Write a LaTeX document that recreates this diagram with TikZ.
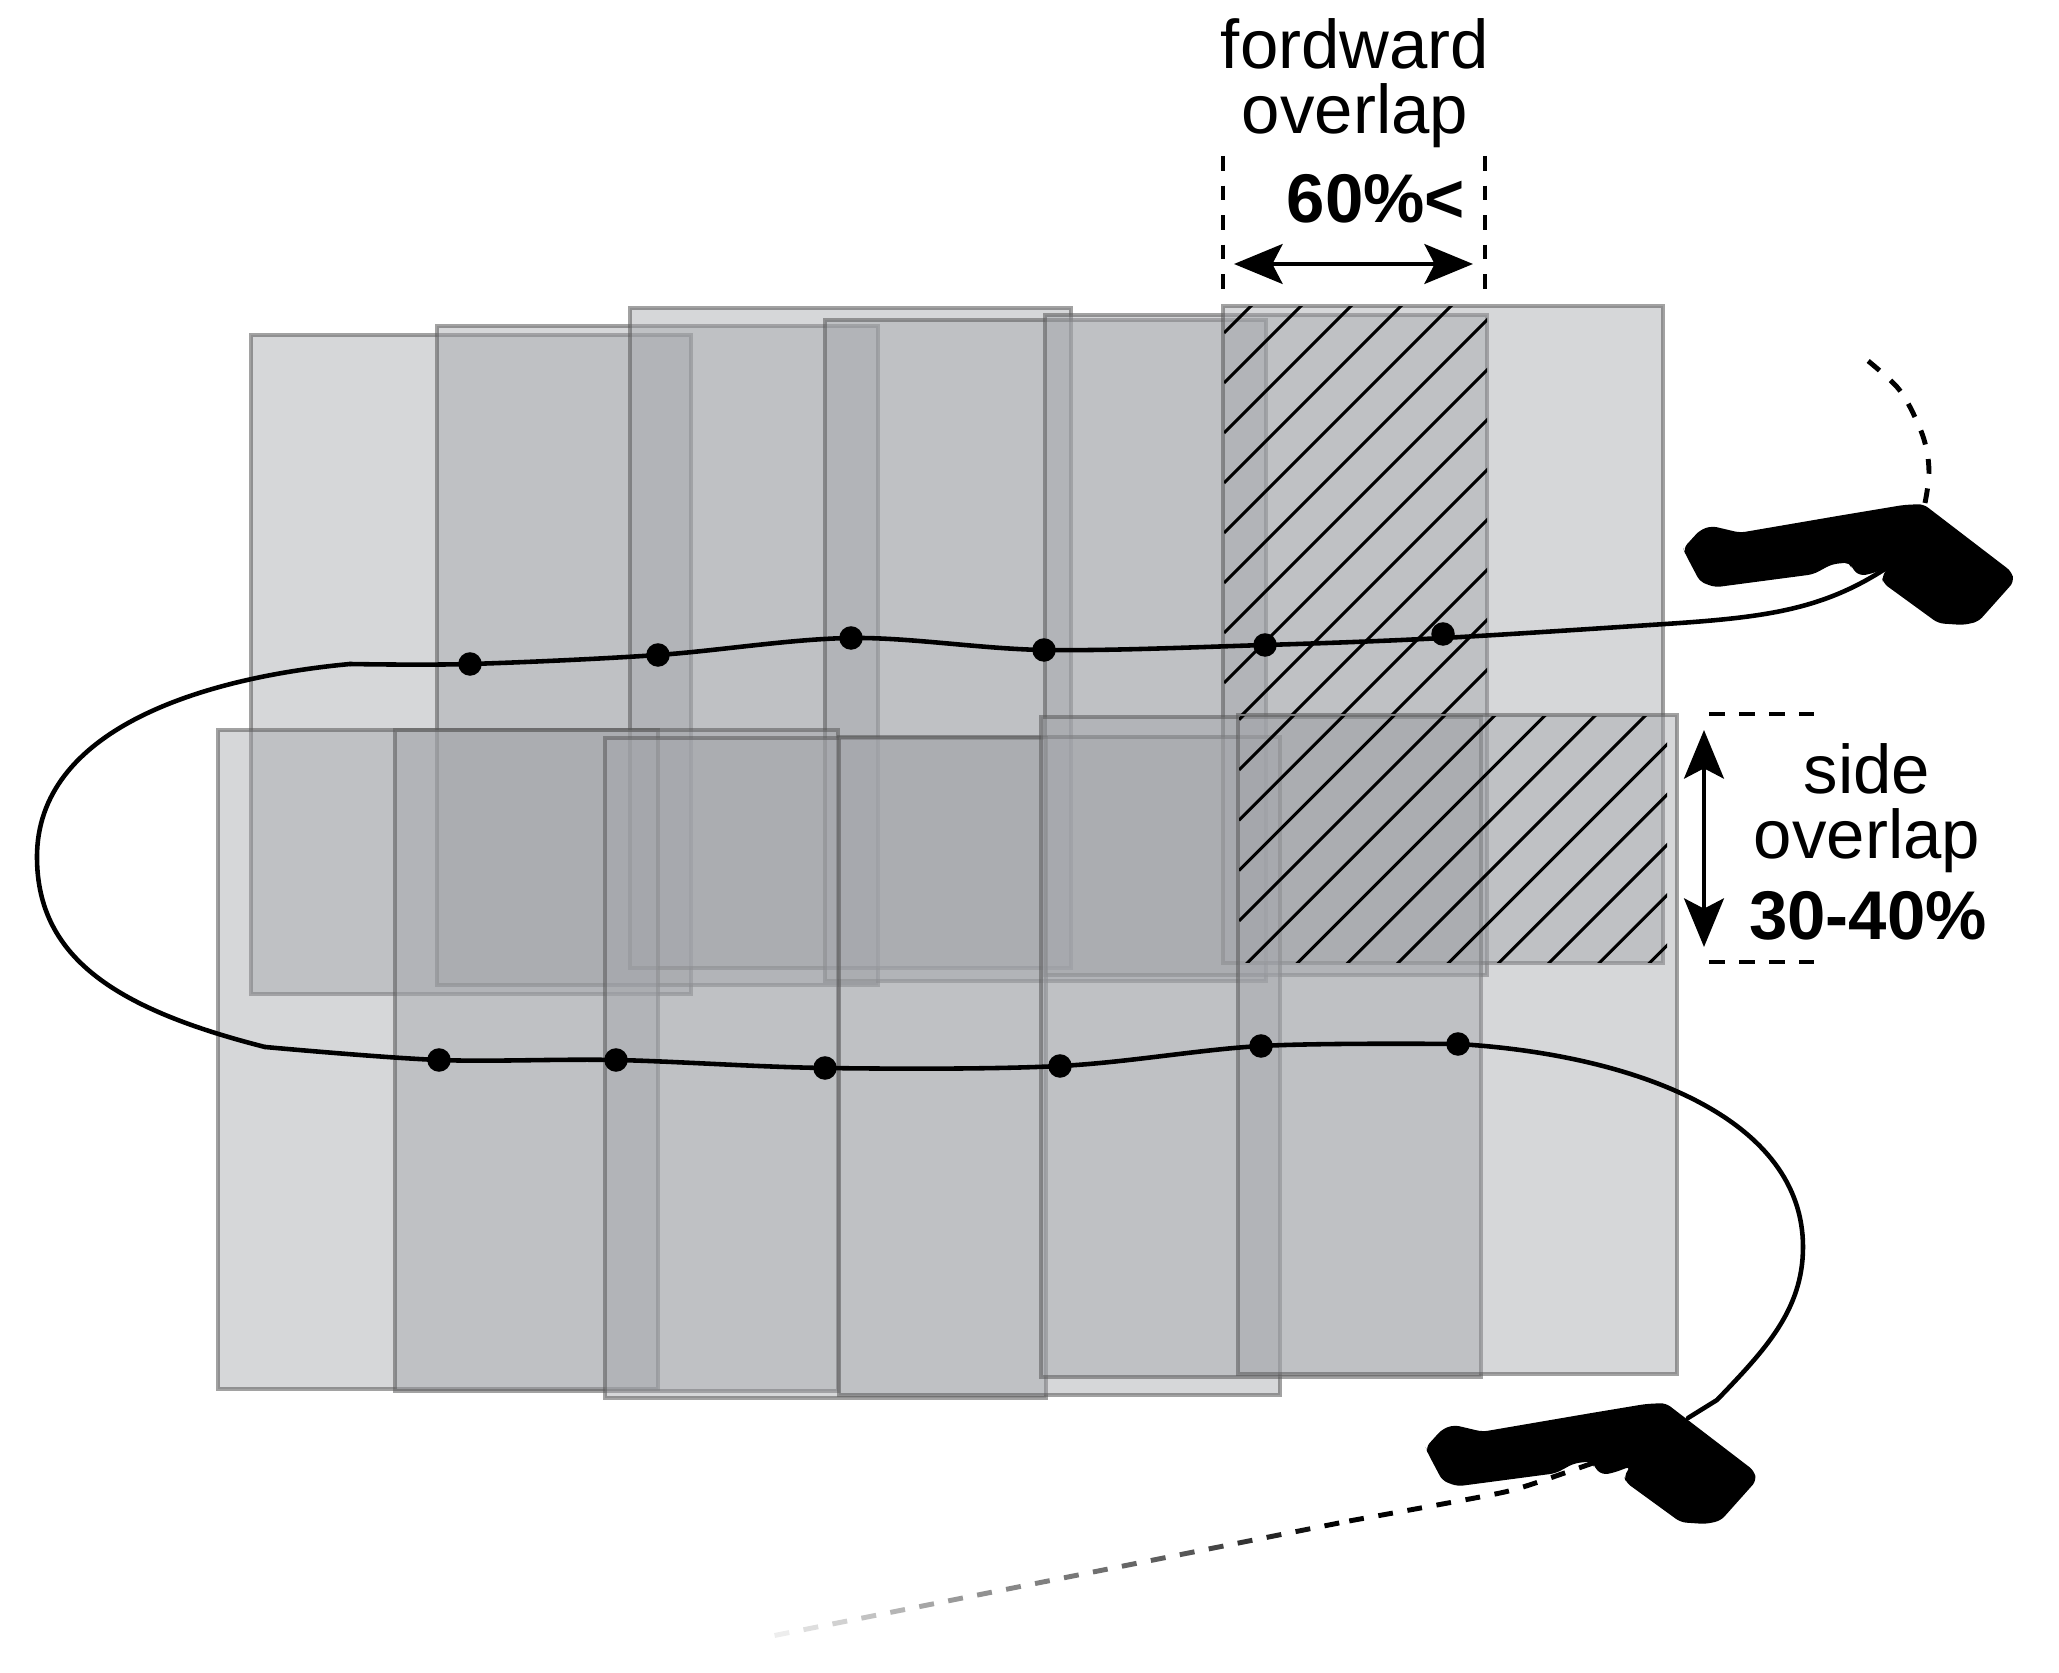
\documentclass[tikz,border=0pt]{standalone}
\usepackage{fontspec}
\setmainfont{Liberation Sans}
\usetikzlibrary{arrows.meta,calc}
\definecolor{photoFill}{RGB}{162,164,169}
\definecolor{photoEdge}{gray}{.35}
\tikzset{
  photo/.style={fill=photoFill,fill opacity=.44,draw=photoEdge,draw opacity=.56,line width=1.2pt},
  hatchline/.style={black,line width=.85pt},
  cable/.style={black,line width=1.3pt,line cap=round},
  guide/.style={black,line width=1.4pt,dash pattern=on 4.2pt off 4.2pt},
  guideh/.style={black,line width=1.4pt,dash pattern=on 4.47pt off 4.07pt},
  dotnode/.style={circle,fill=black,inner sep=0pt,minimum size=.235cm},
  measure/.style={black,line width=1.35pt,{Stealth[length=13.8pt,width=11.3pt,inset=2.9pt]}-{Stealth[length=13.8pt,width=11.3pt,inset=2.9pt]}},
  label/.style={align=center,font=\fontsize{19.6}{18.4}\selectfont,inner sep=0pt},
}
\newcommand{\gunshape}{(1683.3,548.3) -- (1700,530) -- (1711.7,526) -- (1740,532.7) -- (1843.3,515) -- (1903.3,505) -- (1923.3,504) -- (2011.7,571.7) -- (2014,581.7) -- (1978.3,621.7) -- (1963.3,625) -- (1938.3,623.3) -- (1883.3,583.3) -- (1881.7,576.7) -- (1888.3,567.3) -- (1872.7,573.3) -- (1860,576) -- (1851.7,568.3) -- (1850,562.3) -- (1831.7,564.3) -- (1813.3,574.3) -- (1715,587.3) -- (1700,581.7) -- (1685,553.3) -- cycle}
\begin{document}
\begin{tikzpicture}[x=.01cm,y=-.01cm]
\useasboundingbox (0,0) rectangle (2059,1673);
% top strip of photos
\draw[photo] (251,335) rectangle (691,994);
\draw[photo] (437,326) rectangle (878,985);
\draw[photo] (630,308) rectangle (1071,968);
\draw[photo] (825,320) rectangle (1266,981);
\draw[photo] (1045,315) rectangle (1487,975);
\draw[photo] (1223,306) rectangle (1663,963);
% bottom strip of photos
\draw[photo] (218,730) rectangle (658,1389);
\draw[photo] (395,730) rectangle (838,1391);
\draw[photo] (605,738) rectangle (1046,1398);
\draw[photo] (839,737) rectangle (1280,1395);
\draw[photo] (1041,717) rectangle (1481,1377);
\draw[photo] (1238,715) rectangle (1677,1374);
% hatching
\begin{scope}
\clip (1224,307) rectangle (1487,714);
\foreach \k in {0,...,14}
  \draw[hatchline] (1224,333+50*\k) -- (1524,33+50*\k);
\end{scope}
\begin{scope}
\clip (1239,717) rectangle (1667,963);
\foreach \k in {-1,...,13}
  \draw[hatchline] (1239,770+50.3*\k) -- (1739,270+50.3*\k);
\end{scope}
% waypoints
\node[dotnode] (d1) at (1443,634) {};
\node[dotnode] (d2) at (1265,645) {};
\node[dotnode] (d3) at (1044,650) {};
\node[dotnode] (d4) at (851,638) {};
\node[dotnode] (d5) at (658,655) {};
\node[dotnode] (d6) at (470,664) {};
\node[dotnode] (d7) at (439,1060) {};
\node[dotnode] (d8) at (616,1060) {};
\node[dotnode] (d9) at (825,1068) {};
\node[dotnode] (d10) at (1060,1066) {};
\node[dotnode] (d11) at (1261,1046) {};
\node[dotnode] (d12) at (1458,1044) {};
% flight path
\coordinate (a1) at (1888,567);
\coordinate (a5) at (1650,625);
\coordinate (a6) at (1443,638);
\coordinate (b1) at (350,664);
\coordinate (b8) at (37,857);
\coordinate (b15) at (265,1047);
\coordinate (c7) at (1803,1247);
\coordinate (c11) at (1717,1400);
\coordinate (c12) at (1688,1418);
\draw[cable] (a1) .. controls (1820,612) and (1760,618) .. (a5);
\draw[cable] plot[smooth,tension=.55] coordinates {(a5) (a6) (d2.center) (d3.center) (d4.center) (d5.center) (d6.center) (b1)};
\draw[cable] (b1) .. controls (200,678) and (37,730) .. (b8) .. controls (37,960) and (120,1010) .. (b15);
\draw[cable] plot[smooth,tension=.55] coordinates {(b15) (d7.center) (d8.center) (d9.center) (d10.center) (d11.center) (d12.center)};
\draw[cable] (d12.center) .. controls (1640,1055) and (1803,1120) .. (c7) .. controls (1803,1310) and (1765,1350) .. (c11) -- (c12);
% dashed continuation
\coordinate (e1) at (1925,503);
\coordinate (e2) at (1929,473);
\coordinate (e3) at (1925,443);
\coordinate (e4) at (1913,413);
\coordinate (e5) at (1897,387);
\coordinate (e6) at (1867,360);
\draw[guide] plot[smooth,tension=.6] coordinates {(e1) (e2) (e3) (e4) (e5) (e6)};
\coordinate (f1) at (1593,1463);
\coordinate (f2) at (1523,1487);
\coordinate (f3) at (1480,1497);
\coordinate (f4) at (1349,1521);
\coordinate (f5) at (777,1635);
\draw[guide] plot[smooth,tension=.5] coordinates {(f1) (f2) (f3) (f4)};
\foreach \i/\p in {0/100,1/93,2/86,3/80,4/73,5/66,6/63,7/60,8/56,9/53,10/50,11/47,12/43,13/40,14/35,15/29,16/24,17/18,18/13,19/7}
  \draw[black!\p,line width=1.4pt]
    ($(f4)!{(\i*29.5+10)/583}!(f5)$) -- ($(f4)!{(\i*29.5+25)/583}!(f5)$);
% scanners
\fill[black,rounded corners=1.6pt] \gunshape;
\begin{scope}[shift={(-257.6,899)}]
\fill[black,rounded corners=1.6pt] \gunshape;
\end{scope}
% forward overlap annotation
\coordinate (g1) at (1223,156);
\coordinate (g2) at (1223,289);
\coordinate (g3) at (1485,156);
\coordinate (g4) at (1485,289);
\draw[guide] (g1) -- (g2);
\draw[guide] (g3) -- (g4);
\coordinate (m1) at (1234,264);
\coordinate (m2) at (1473,264);
\draw[measure] (m1) -- (m2);
\node[label] (fw) at (1355,83) {fordward\\overlap};
\node[label,font=\fontsize{19.6}{18.4}\selectfont\bfseries] (fwv) at (1376,199) {60\%<};
% side overlap annotation
\coordinate (h1) at (1709,714);
\coordinate (h2) at (1814,714);
\coordinate (h3) at (1709,962);
\coordinate (h4) at (1814,962);
\draw[guideh] (h1) -- (h2);
\draw[guideh] (h3) -- (h4);
\coordinate (m3) at (1704,730);
\coordinate (m4) at (1704,947);
\draw[measure] (m3) -- (m4);
\node[label] (sd) at (1867,808) {side\\overlap};
\node[label,font=\fontsize{19.6}{18.4}\selectfont\bfseries] (sdv) at (1868,916) {30-40\%};
\end{tikzpicture}
\end{document}
